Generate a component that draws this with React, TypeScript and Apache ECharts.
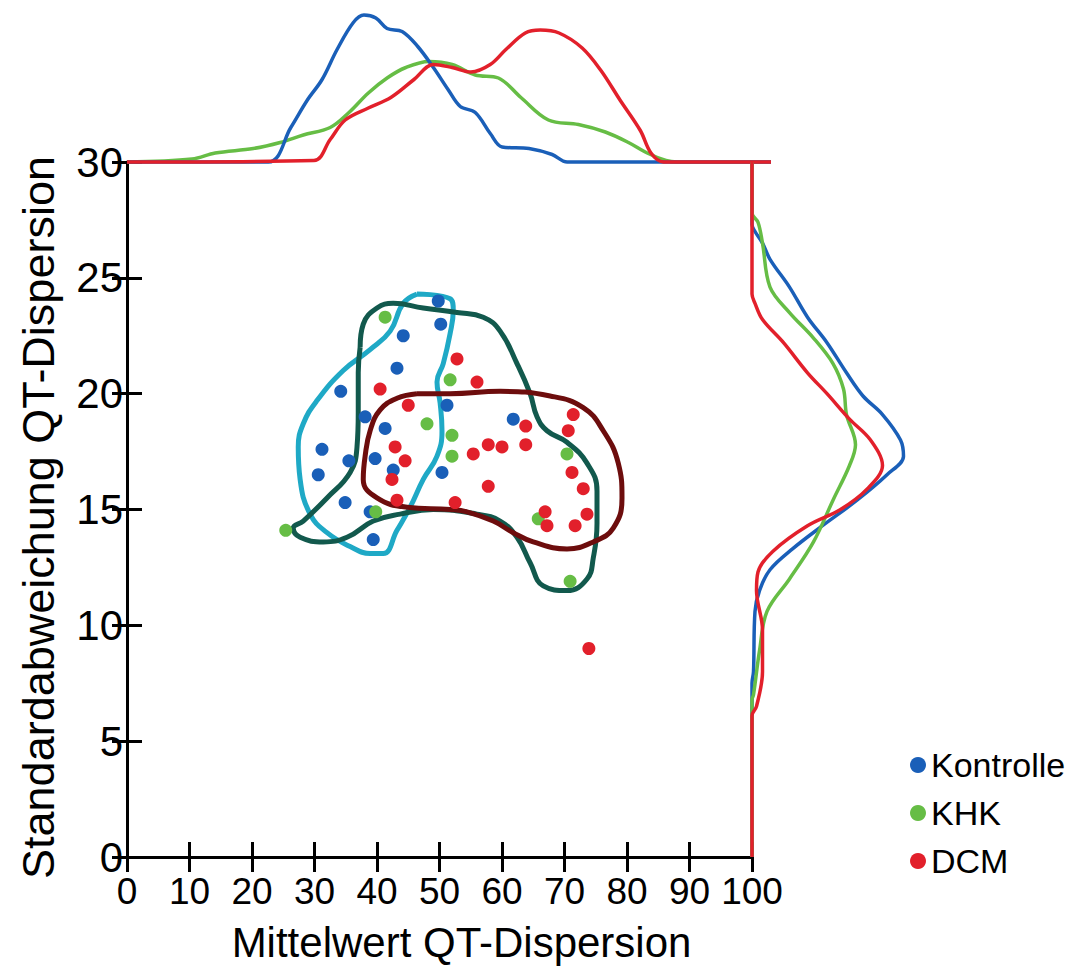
import React, { useEffect, useRef } from "react";
import * as echarts from "echarts";

// Axis ticks
const xTicks = [0, 10, 20, 30, 40, 50, 60, 70, 80, 90, 100];
const yTicks = [0, 5, 10, 15, 20, 25, 30];

// Scatter points [Mittelwert, Standardabweichung]
const kontrolle = [
  [49.8, 24.0], [50.2, 23.0], [44.2, 22.5], [43.2, 21.1], [34.2, 20.1], [38.1, 19.0],
  [41.3, 18.5], [51.2, 19.5], [31.2, 17.6], [35.5, 17.1], [39.7, 17.2], [30.6, 16.5],
  [42.6, 16.7], [50.4, 16.6], [34.9, 15.3], [38.9, 14.9], [39.4, 13.7], [61.8, 18.9],
];
const khk = [
  [25.4, 14.1], [39.8, 14.9], [41.3, 23.3], [48.0, 18.7], [51.7, 20.6], [52.0, 18.2],
  [52.0, 17.3], [70.4, 17.4], [65.8, 14.6], [70.9, 11.9],
];
const dcm = [
  [40.5, 20.2], [45.0, 19.5], [42.9, 17.7], [44.5, 17.1], [42.4, 16.3], [43.2, 15.4],
  [52.8, 21.5], [56.0, 20.5], [63.8, 18.6], [63.8, 17.8], [55.4, 17.4], [57.8, 17.8],
  [60.0, 17.7], [71.4, 19.1], [70.6, 18.4], [71.2, 16.6], [73.0, 15.9], [73.6, 14.8],
  [71.7, 14.3], [66.9, 14.9], [67.2, 14.3], [57.8, 16.0], [52.5, 15.3], [73.9, 9.0],
];

// Contours
const hullKontrolle = [
  [46.4, 24.3], [51.7, 24.1], [52.2, 23.6], [51.7, 22.6], [50.6, 21.3], [49.6, 20.5],
  [50.1, 19.6], [50.4, 18.4], [49.6, 17.3], [47.4, 16.3], [45.3, 15.1], [43.2, 14.1],
  [41.0, 13.1], [38.9, 13.1], [35.7, 13.4], [32.0, 14.0], [29.3, 14.8], [27.7, 16.3],
  [27.4, 17.7], [28.2, 18.7], [30.4, 19.7], [34.6, 21.0], [38.9, 21.9], [42.1, 22.7],
  [44.2, 23.9], [46.4, 24.3],
];
const hullKHK = [
  [37.3, 22.0], [37.8, 23.0], [40.0, 23.7], [42.6, 23.9], [47.4, 23.7], [52.8, 23.5],
  [57.0, 23.3], [59.7, 22.7], [62.4, 21.3], [64.5, 20.0], [65.6, 19.0], [67.2, 18.4],
  [70.4, 17.9], [73.6, 17.0], [75.2, 15.8], [75.2, 14.4], [74.6, 12.9], [73.6, 12.0],
  [70.4, 11.5], [66.6, 11.7], [64.5, 12.7], [62.4, 13.8], [59.7, 14.5], [56.0, 14.8],
  [49.0, 15.0], [43.7, 14.8], [39.4, 14.5], [35.2, 13.8], [31.4, 13.6], [27.7, 13.8],
  [26.6, 14.2], [28.2, 14.5], [32.0, 15.5], [35.7, 16.6], [36.8, 17.7], [37.0, 19.2],
  [37.0, 20.9], [37.3, 22.0],
];
const hullDCM = [
  [46.4, 20.0], [43.2, 19.8], [40.5, 19.3], [38.9, 18.4], [38.1, 17.3], [37.8, 16.3],
  [40.0, 15.5], [44.8, 15.1], [51.7, 15.0], [54.4, 14.9], [58.6, 14.5], [61.8, 14.0],
  [65.0, 13.6], [70.4, 13.3], [74.6, 13.6], [77.8, 14.2], [79.2, 15.5], [78.6, 17.0],
  [76.2, 18.4], [73.0, 19.4], [67.7, 19.9], [59.7, 20.1], [51.7, 20.0], [46.4, 20.0],
];

// Marginal densities on top: [Mittelwert, relative density]
const topKontrolle = [
  [0, 0], [22.6, 0], [26.2, 0.23], [28.8, 0.41], [31.2, 0.55], [33.6, 0.75], [36.2, 0.93],
  [37.9, 0.98], [39.8, 0.96], [41.6, 0.89], [44.0, 0.87], [46.5, 0.77], [49.0, 0.63],
  [51.4, 0.48], [53.3, 0.37], [55.7, 0.33], [58.1, 0.19], [60.0, 0.1], [64.3, 0.09],
  [68.0, 0.05], [70.4, 0], [103, 0],
];
const topKHK = [
  [0, 0], [10.4, 0.02], [14.1, 0.06], [20.2, 0.09], [24.5, 0.13], [28.2, 0.18], [32.5, 0.23],
  [35.5, 0.33], [38.6, 0.46], [41.6, 0.56], [44.6, 0.63], [48.3, 0.67], [52.0, 0.65],
  [55.7, 0.58], [59.4, 0.56], [63.0, 0.43], [67.4, 0.28], [72.2, 0.25], [76.5, 0.2],
  [80.2, 0.13], [83.2, 0.06], [86.2, 0.01], [88, 0], [103, 0],
];
const topDCM = [
  [0, 0], [29.9, 0.01], [32.5, 0.15], [34.9, 0.28], [38.6, 0.36], [42.2, 0.43], [45.9, 0.55],
  [49.0, 0.65], [52.0, 0.63], [55.0, 0.6], [58.1, 0.65], [60.6, 0.75], [63.7, 0.86],
  [66.1, 0.88], [69.1, 0.86], [72.8, 0.76], [75.8, 0.61], [78.9, 0.41], [82.1, 0.21],
  [83.8, 0.06], [85.8, 0], [103, 0],
];

// Marginal densities on the right: [relative density, Standardabweichung]
const rightKontrolle = [
  [0, 0], [0, 7.5], [0.01, 8.0], [0.02, 10.6], [0.05, 11.5], [0.12, 12.4], [0.27, 13.3],
  [0.47, 14.3], [0.7, 15.4], [0.9, 16.5], [1.01, 17.3], [0.99, 18.0], [0.87, 19.1],
  [0.74, 19.9], [0.63, 20.9], [0.5, 22.2], [0.37, 23.3], [0.25, 24.6], [0.12, 25.8],
  [0.07, 26.5], [0.02, 27.0], [0, 27.3], [0, 30],
];
const rightKHK = [
  [0, 0], [0, 6.8], [0.01, 7.0], [0.05, 8.9], [0.1, 10.6], [0.25, 12.0], [0.41, 13.6],
  [0.54, 15.4], [0.65, 16.9], [0.69, 17.8], [0.63, 19.1], [0.61, 20.2], [0.54, 21.3],
  [0.41, 22.4], [0.25, 23.5], [0.12, 24.6], [0.07, 26.5], [0.04, 27.4], [0, 27.8], [0, 30],
];
const rightDCM = [
  [0, 0], [0, 6.1], [0.03, 6.5], [0.07, 8.0], [0.07, 9.8], [0.03, 11.5], [0.04, 12.3],
  [0.14, 13.2], [0.37, 14.3], [0.59, 15.0], [0.77, 15.9], [0.87, 16.9], [0.79, 18.0],
  [0.65, 18.9], [0.5, 20.0], [0.37, 20.9], [0.21, 22.2], [0.07, 23.2], [0.02, 23.9],
  [0, 24.3], [0, 30],
];

const C_BLUE = "#1a5fb8";
const C_GREEN = "#66bd45";
const C_RED = "#e2202b";
const C_CYAN = "#1fa9c6";
const C_TEAL = "#12594d";
const C_DARKRED = "#6d0d0d";

const FONT = "'Liberation Sans', Arial, sans-serif";

export default function App() {
  const ref = useRef<HTMLDivElement>(null);
  useEffect(() => {
    if (!ref.current) return;
    const chart = echarts.init(ref.current, undefined, { renderer: "svg" });
    const axisLine = { show: true, lineStyle: { color: "#000", width: 3 } };
    const axisTick = { show: true, inside: true, length: 15, lineStyle: { color: "#000", width: 3 } };
    const densityLine = (name: string, data: number[][], color: string, xi: number, yi: number) => ({
      name,
      type: "line",
      xAxisIndex: xi,
      yAxisIndex: yi,
      data,
      smooth: 0.35,
      symbol: "none",
      clip: false,
      silent: true,
      z: 4,
      lineStyle: { color, width: 3.5 },
    });
    const hull = (name: string, data: number[][], color: string) => ({
      name,
      type: "line",
      xAxisIndex: 0,
      yAxisIndex: 0,
      data,
      smooth: 0.45,
      symbol: "none",
      silent: true,
      z: 3,
      lineStyle: { color, width: 5 },
    });
    const scatter = (name: string, data: number[][], color: string) => ({
      name,
      type: "scatter",
      xAxisIndex: 0,
      yAxisIndex: 0,
      data,
      symbol: "circle",
      symbolSize: 13,
      z: 5,
      itemStyle: { color, opacity: 1 },
    });
    chart.setOption({
      animation: false,
      backgroundColor: "#fff",
      textStyle: { fontFamily: FONT },
      legend: {
        data: ["Kontrolle", "KHK", "DCM"],
        orient: "vertical",
        left: 905,
        top: 743,
        icon: "circle",
        itemWidth: 16,
        itemHeight: 16,
        itemGap: 14,
        itemTextGap: 21,
        textStyle: { fontSize: 34, color: "#000", fontFamily: FONT, lineHeight: 33 },
      },
      grid: [
        { left: 127, top: 162, width: 625, height: 695 },
        { left: 127, top: 12, width: 644, height: 150 },
        { left: 752, top: 162, width: 165, height: 695 },
      ],
      xAxis: [
        {
          gridIndex: 0,
          type: "value",
          min: 0,
          max: 100,
          interval: 10,
          position: "bottom",
          axisLine,
          axisTick,
          splitLine: { show: false },
          axisLabel: {
            fontSize: 37,
            color: "#000",
            margin: 16,
            fontFamily: FONT,
            formatter: (v: number) => (xTicks.includes(v) ? String(v) : ""),
          },
          name: "Mittelwert QT-Dispersion",
          nameLocation: "middle",
          nameGap: 64,
          nameTextStyle: { fontSize: 42, color: "#000", fontFamily: FONT, padding: [0, 0, 0, 44] },
        },
        {
          gridIndex: 0,
          type: "value",
          min: 0,
          max: 100,
          interval: 10,
          position: "top",
          axisLine,
          axisTick,
          axisLabel: { show: false },
          splitLine: { show: false },
        },
        { gridIndex: 1, type: "value", min: 0, max: 103, show: false },
        { gridIndex: 2, type: "value", min: 0, max: 1.1, show: false },
      ],
      yAxis: [
        {
          gridIndex: 0,
          type: "value",
          min: 0,
          max: 30,
          interval: 5,
          position: "left",
          axisLine,
          axisTick,
          splitLine: { show: false },
          axisLabel: {
            fontSize: 42,
            color: "#000",
            margin: 4,
            fontFamily: FONT,
            formatter: (v: number) => (yTicks.includes(v) ? String(v) : ""),
          },
          name: "Standardabweichung QT-Dispersion",
          nameLocation: "middle",
          nameGap: 66,
          nameRotate: 90,
          nameTextStyle: { fontSize: 45, color: "#000", fontFamily: FONT, padding: [0, 16, 0, 0] },
        },
        {
          gridIndex: 0,
          type: "value",
          min: 0,
          max: 30,
          interval: 5,
          position: "right",
          axisLine,
          axisTick,
          axisLabel: { show: false },
          splitLine: { show: false },
        },
        { gridIndex: 1, type: "value", min: 0, max: 1, show: false },
        { gridIndex: 2, type: "value", min: 0, max: 30, show: false },
      ],
      series: [
        hull("Kontur Kontrolle", hullKontrolle, C_CYAN),
        hull("Kontur KHK", hullKHK, C_TEAL),
        hull("Kontur DCM", hullDCM, C_DARKRED),
        scatter("Kontrolle", kontrolle, C_BLUE),
        scatter("KHK", khk, C_GREEN),
        scatter("DCM", dcm, C_RED),
        densityLine("Dichte KHK (oben)", topKHK, C_GREEN, 2, 2),
        densityLine("Dichte Kontrolle (oben)", topKontrolle, C_BLUE, 2, 2),
        densityLine("Dichte DCM (oben)", topDCM, C_RED, 2, 2),
        densityLine("Dichte Kontrolle (rechts)", rightKontrolle, C_BLUE, 3, 3),
        densityLine("Dichte KHK (rechts)", rightKHK, C_GREEN, 3, 3),
        densityLine("Dichte DCM (rechts)", rightDCM, C_RED, 3, 3),
      ],
    });
    return () => chart.dispose();
  }, []);
  return (
    <div
      ref={ref}
      style={{ position: "fixed", left: 0, top: 0, width: 1085, height: 972, background: "#fff" }}
    />
  );
}
